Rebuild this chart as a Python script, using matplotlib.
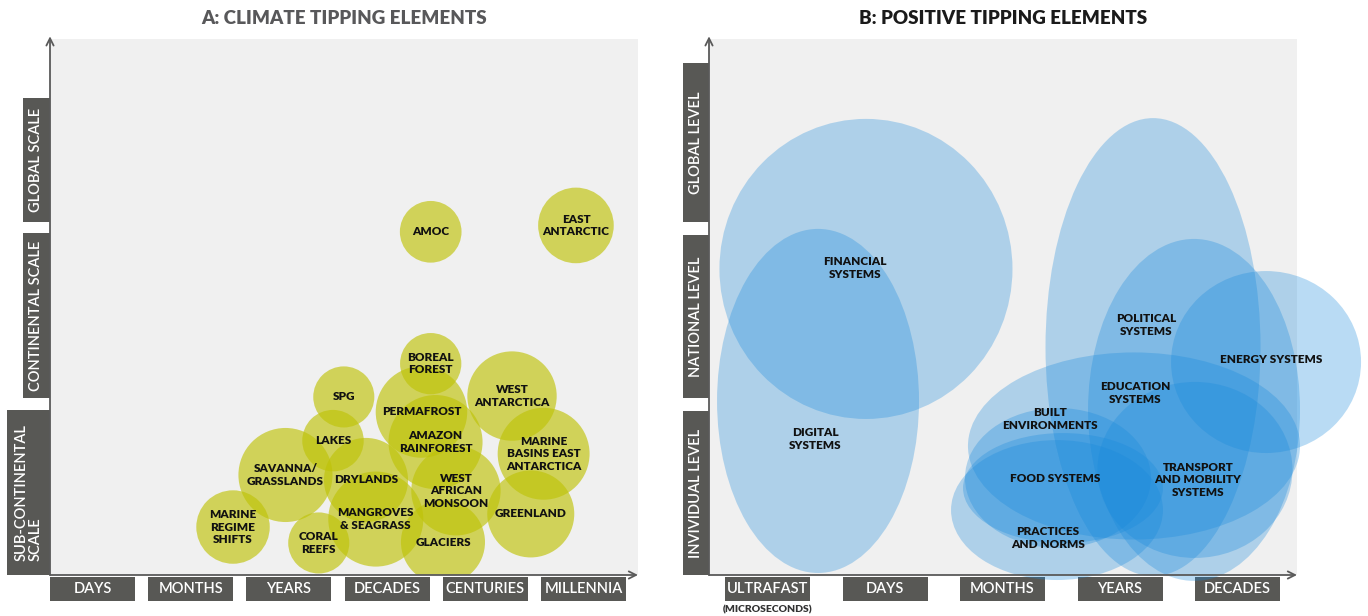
import matplotlib
matplotlib.use("Agg")
import matplotlib.pyplot as plt
from matplotlib.patches import Ellipse, Rectangle

plt.rcParams["font.family"] = ["Lato", "DejaVu Sans"]

# ---- Panel A: climate tipping elements (x = timescale, y = spatial scale) ----
CLIMATE_TIMESCALES = ["DAYS", "MONTHS", "YEARS", "DECADES", "CENTURIES", "MILLENNIA"]
CLIMATE_LEVELS = ["SUB-CONTINENTAL\nSCALE", "CONTINENTAL SCALE", "GLOBAL SCALE"]
CLIMATE_NAMES = [
    "AMOC", "EAST\nANTARCTIC", "BOREAL\nFOREST", "SPG", "PERMAFROST",
    "WEST\nANTARCTICA", "AMAZON\nRAINFOREST", "LAKES",
    "MARINE\nBASINS EAST\nANTARCTICA", "SAVANNA/\nGRASSLANDS", "DRYLANDS",
    "WEST\nAFRICAN\nMONSOON", "GREENLAND", "MARINE\nREGIME\nSHIFTS",
    "MANGROVES\n& SEAGRASS", "CORAL\nREEFS", "GLACIERS",
]
CLIMATE_X = [3.944, 5.423, 3.944, 3.059, 3.850, 4.772, 3.993, 2.949,
             5.094, 2.465, 3.285, 4.201, 4.963, 1.931, 3.385, 2.804, 4.069]
CLIMATE_Y = [1.939, 1.975, 1.194, 1.006, 0.921, 1.011, 0.751, 0.759,
             0.685, 0.565, 0.537, 0.476, 0.345, 0.271, 0.316, 0.181, 0.186]
CLIMATE_R = [0.314, 0.385, 0.312, 0.311, 0.466, 0.455, 0.479, 0.313,
             0.468, 0.479, 0.428, 0.455, 0.443, 0.374, 0.484, 0.311, 0.428]

# ---- Panel B: positive tipping elements (ellipse extents in axis units) ----
POSITIVE_TIMESCALES = ["ULTRAFAST", "DAYS", "MONTHS", "YEARS", "DECADES"]
POSITIVE_LEVELS = ["INVIVIDUAL LEVEL", "NATIONAL LEVEL", "GLOBAL LEVEL"]
REGION_X = [1.338, 0.930, 3.781, 4.130, 4.743, 3.619, 2.972, 3.015, 2.964, 4.138]
REGION_Y = [1.739, 0.989, 1.295, 0.938, 1.210, 0.733, 0.551, 0.494, 0.369, 0.597]
REGION_W = [2.494, 1.719, 1.830, 1.804, 1.617, 2.826, 1.583, 1.702, 1.804, 1.660]
REGION_H = [1.705, 1.955, 2.602, 1.943, 1.034, 1.063, 0.795, 0.625, 0.795, 1.000]
POSITIVE_NAMES = [
    "FINANCIAL\nSYSTEMS", "DIGITAL\nSYSTEMS", "POLITICAL\nSYSTEMS",
    "ENERGY SYSTEMS", "EDUCATION\nSYSTEMS", "BUILT\nENVIRONMENTS",
    "FOOD SYSTEMS", "TRANSPORT\nAND MOBILITY\nSYSTEMS", "PRACTICES\nAND NORMS",
]
LABEL_X = [1.244, 0.904, 3.721, 4.785, 3.628, 2.904, 2.946, 4.163, 2.887]
LABEL_Y = [1.744, 0.773, 1.420, 1.227, 1.034, 0.886, 0.551, 0.540, 0.210]

BG = "#f0f0f0"
BOX = "#585855"
AXIS = "#5a5a5a"
TEXT = "#111111"
YELLOW = "#bfc308"
BLUE = "#1789dc"

W, H = 1368, 616
fig = plt.figure(figsize=(W / 100, H / 100), dpi=100)


def px_axes(x0, y0, x1, y1):
    """Axes from pixel box (top-left origin)."""
    return fig.add_axes([x0 / W, 1 - y1 / H, (x1 - x0) / W, (y1 - y0) / H])


def frame(ax, xlim, ylim, title, title_color):
    ax.set_xlim(*xlim)
    ax.set_ylim(*ylim)
    ax.set_facecolor(BG)
    for s in ax.spines.values():
        s.set_visible(False)
    ax.set_xticks([])
    ax.set_yticks([])
    arrow = dict(arrowstyle="->", lw=1.3, color=AXIS, shrinkA=0, shrinkB=0,
                 mutation_scale=13)
    ax.annotate("", xy=(0, 1.005), xytext=(0, 0), xycoords="axes fraction",
                arrowprops=arrow, annotation_clip=False, zorder=6)
    ax.annotate("", xy=(1.0, 0), xytext=(0, 0), xycoords="axes fraction",
                arrowprops=arrow, annotation_clip=False, zorder=6)
    ax.text(0.5, 1.0 + 21 / 536, title, transform=ax.transAxes, ha="center",
            va="center", fontsize=13.5, fontweight="heavy", color=title_color)


def x_boxes(ax, labels, width, y0, y1):
    for i, lab in enumerate(labels):
        c = i + 0.5
        ax.add_patch(Rectangle((c - width / 2, y1), width, y0 - y1,
                               facecolor=BOX, edgecolor="none", clip_on=False))
        ax.text(c, (y0 + y1) / 2, lab, ha="center", va="center", color="white",
                fontsize=10.5, fontweight="semibold", clip_on=False)


def y_boxes(ax, labels, spans, widths, x_right):
    for lab, (b, t), w in zip(labels, spans, widths):
        ax.add_patch(Rectangle((x_right - w, b), w, t - b, facecolor=BOX,
                               edgecolor="none", clip_on=False))
        ax.text(x_right - w / 2, (b + t) / 2, lab, rotation=90, ha="center",
                va="center", multialignment="left", color="white",
                fontsize=10.5, fontweight="semibold", linespacing=1.0,
                clip_on=False)


# ---- panel A ----
ax = px_axes(50, 39, 638, 575)
sx, sy = 98.2, 177.0  # pixels per timescale step / per spatial level
frame(ax, (6.6 / sx, 594.6 / sx), (0, 536 / sy),
      "A: CLIMATE TIPPING ELEMENTS", "#58585a")
x_boxes(ax, CLIMATE_TIMESCALES, 85 / sx, -2 / sy, -26 / sy)
y_boxes(ax, CLIMATE_LEVELS, [(0, 165 / sy), (177 / sy, 342 / sy), (353 / sy, 477 / sy)],
        [43 / sx, 27 / sx, 27 / sx], 6.6 / sx)
for name, x, y, r in zip(CLIMATE_NAMES, CLIMATE_X, CLIMATE_Y, CLIMATE_R):
    ax.add_patch(Ellipse((x, y), 2 * r, 2 * r * sx / sy, facecolor=YELLOW,
                         edgecolor="none", alpha=0.65, zorder=2))
    ax.text(x, y, name, ha="center", va="center", fontsize=8.5,
            fontweight="heavy", color=TEXT, linespacing=1.15, zorder=5)

# ---- panel B ----
ax = px_axes(709, 39, 1297, 575)
sx, sy = 117.5, 176.0
frame(ax, (0.25 / sx, 588.25 / sx), (0, 536 / sy),
      "B: POSITIVE TIPPING ELEMENTS", "#1a1a1a")
x_boxes(ax, POSITIVE_TIMESCALES, 85 / sx, -2 / sy, -26 / sy)
ax.text(0.5, -35 / sy, "(MICROSECONDS)", ha="center", va="center",
        fontsize=7.5, fontweight="heavy", color="#333333", clip_on=False)
y_boxes(ax, POSITIVE_LEVELS, [(0, 164 / sy), (177 / sy, 340 / sy), (353 / sy, 512 / sy)],
        [26 / sx] * 3, 0.25 / sx)
for x, y, w, h in zip(REGION_X, REGION_Y, REGION_W, REGION_H):
    ax.add_patch(Ellipse((x, y), w, h, facecolor=BLUE, edgecolor="none",
                         alpha=0.3, zorder=2, clip_on=False))
for name, x, y in zip(POSITIVE_NAMES, LABEL_X, LABEL_Y):
    ax.text(x, y, name, ha="center", va="center", fontsize=8.5,
            fontweight="heavy", color=TEXT, linespacing=1.15, zorder=5)

fig.savefig("out.png", dpi=100)
